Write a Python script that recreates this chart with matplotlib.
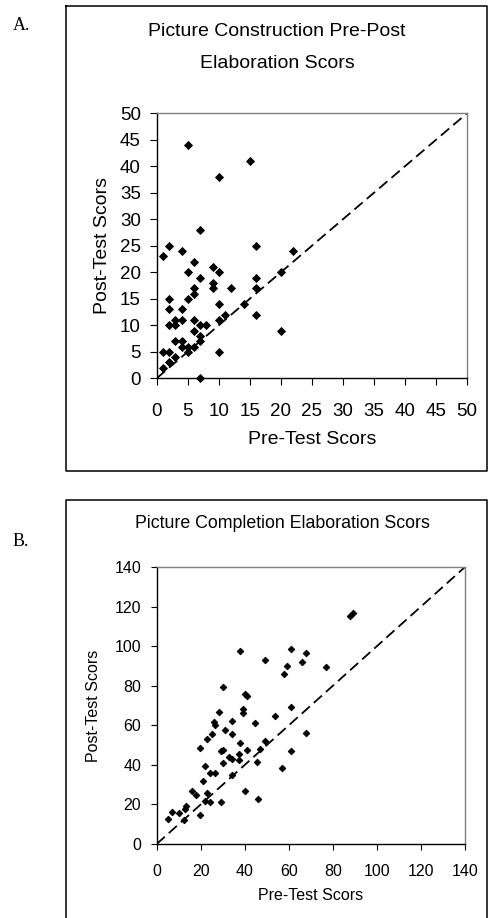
import matplotlib
matplotlib.use("Agg")
import matplotlib.pyplot as plt
from matplotlib.lines import Line2D

plt.rcParams['font.family'] = ['Liberation Sans', 'DejaVu Sans']

# ---------------- Data ----------------
title_a_lines = ["Picture Construction Pre-Post", "Elaboration Scors"]
title_b = "Picture Completion Elaboration Scors"
xlabel = "Pre-Test Scors"
ylabel = "Post-Test Scors"

pre_a = [5, 10, 15, 7, 1, 2, 4, 16, 6, 5, 9, 10, 7, 9, 9, 6, 6, 5, 12, 16,
         16, 20, 22, 2, 2, 4, 10, 14, 11, 10, 16, 20, 2, 3, 3, 4, 6, 7, 8, 6,
         7, 7, 3, 4, 4, 5, 6, 5, 1, 2, 3, 2, 1, 10, 7]
post_a = [44, 38, 41, 28, 23, 25, 24, 25, 22, 20, 21, 20, 19, 18, 17, 17, 16, 15, 17, 19,
          17, 20, 24, 15, 13, 13, 14, 14, 12, 11, 12, 9, 10, 11, 10, 11, 11, 10, 10, 9,
          8, 7, 7, 7, 6, 6, 6, 5, 5, 5, 4, 3, 2, 5, 0]

pre_b = [5, 7, 10, 12.5, 13.5, 13, 16, 18, 19.5, 21, 22, 23, 24, 29, 40, 46,
         22, 24, 26.5, 34, 30, 45.5, 57, 19.5, 29, 30, 33, 34, 37.5, 37.5, 41, 47,
         61, 38, 49, 34, 25, 23, 68, 31, 26, 26.5, 34, 44.5, 28.5, 39, 39, 53.5,
         61, 30, 40, 41, 38, 49, 58, 59, 61, 66, 68, 77, 88, 89]
post_b = [12.5, 16, 15.5, 12, 19, 17.5, 27, 24.8, 14.7, 31.7, 21.5, 26, 21.4, 21.4, 26.8, 22.7,
          39.5, 36, 36, 35, 41, 41.6, 38.6, 48.5, 47, 47.5, 44, 43, 45.5, 42.5, 47.5, 48,
          47, 51, 52, 55.5, 55.6, 53, 56, 57.6, 61.5, 60, 62, 61.3, 66.7, 68, 66, 64.7,
          69, 79.5, 75.8, 75, 97.5, 93, 86, 90, 98.5, 92, 96.3, 89.6, 115, 116.5]

ticks_a = list(range(0, 51, 5))
ticks_b = list(range(0, 141, 20))

# ---------------- Figure ----------------
W, H = 489, 918
fig = plt.figure(figsize=(W / 100, H / 100), dpi=100)


def px_axes(l, t, r, b):
    return fig.add_axes([l / W, 1 - b / H, (r - l) / W, (b - t) / H])


def fig_line(xs, ys, **kw):
    fig.add_artist(Line2D([x / W for x in xs], [1 - y / H for y in ys],
                          transform=fig.transFigure, **kw))


# outer boxes
fig_line([66, 487, 487, 66, 66], [6, 6, 471, 471, 6], color='black', lw=1.1)
fig_line([66, 66, 487, 487], [918, 500, 500, 918], color='black', lw=1.1)

fig.text(13 / W, 1 - 26 / H, "A.", family=['Liberation Serif'], fontsize=13,
         va='center', ha='left')
fig.text(13 / W, 1 - 541 / H, "B.", family=['Liberation Serif'], fontsize=13,
         va='center', ha='left')


def style(ax, ticks, lim, fs, tlen, xpad, ypad):
    ax.set_xlim(lim)
    ax.set_ylim(lim)
    ax.set_xticks(ticks)
    ax.set_yticks(ticks)
    ax.tick_params(direction='out', length=tlen, width=0.8, labelsize=fs,
                   color='black')
    ax.tick_params(axis='x', pad=xpad)
    ax.tick_params(axis='y', pad=ypad)
    ax.spines['top'].set_color('#808080')
    ax.spines['right'].set_color('#808080')
    ax.spines['left'].set_color('black')
    ax.spines['bottom'].set_color('black')
    for s in ax.spines.values():
        s.set_linewidth(1.0)


# Panel A
axa = px_axes(156.7, 113.3, 467, 378.3)
style(axa, ticks_a, (0, 50), 13.5, 5, 12.5, 6.5)
axa.plot([0, 50], [0, 50], color='black', lw=1.3, ls=(0, (6, 3)), zorder=2)
axa.plot(pre_a, post_a, ls='none', marker='D', ms=3.9, mew=0.6, color='black',
         zorder=3, clip_on=False)
axa.set_xlabel(xlabel, fontsize=14, labelpad=8)
axa.set_ylabel(ylabel, fontsize=14, labelpad=6)
for y, line in zip([32, 63], title_a_lines):
    fig.text(277 / W, 1 - y / H, line, ha='center', va='center', fontsize=14)

# Panel B
axb = px_axes(156.7, 567, 465, 844)
style(axb, ticks_b, (0, 140), 11.5, 4.3, 10, 7)
axb.plot([0, 140], [0, 140], color='black', lw=1.3, ls=(0, (6, 3)), zorder=2)
axb.plot(pre_b, post_b, ls='none', marker='D', ms=3.4, mew=0.6, color='black',
         zorder=3, clip_on=False)
axb.set_xlabel(xlabel, fontsize=11.5, labelpad=6.5)
axb.set_ylabel(ylabel, fontsize=11.5, labelpad=9.5)
fig.text(282 / W, 1 - 523 / H, title_b, ha='center', va='center', fontsize=12.75)

fig.savefig("out.png", dpi=100)
